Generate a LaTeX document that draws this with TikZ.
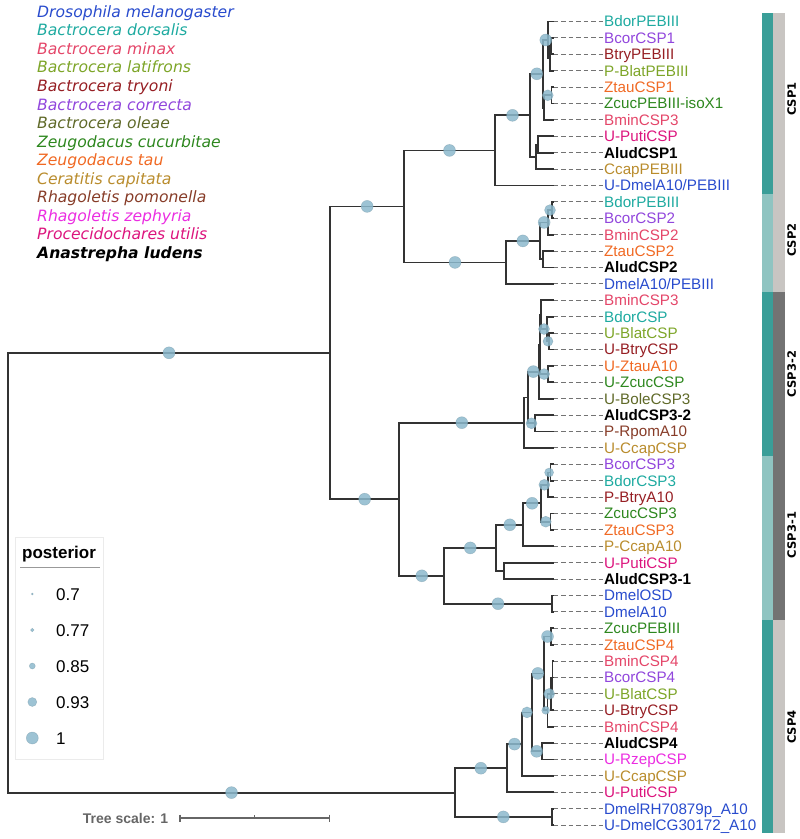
\documentclass[tikz,border=0pt]{standalone}
\usepackage{fontspec}
\setmainfont{Liberation Sans}
\newfontfamily\djv{DejaVu Sans}
\usetikzlibrary{calc}

\definecolor{dmel}{RGB}{40,75,205}
\definecolor{bdor}{RGB}{30,170,160}
\definecolor{bmin}{RGB}{228,70,105}
\definecolor{blat}{RGB}{125,165,40}
\definecolor{btry}{RGB}{150,30,35}
\definecolor{bcor}{RGB}{145,70,220}
\definecolor{bole}{RGB}{95,105,40}
\definecolor{zcuc}{RGB}{45,135,30}
\definecolor{ztau}{RGB}{240,105,35}
\definecolor{ccap}{RGB}{185,140,45}
\definecolor{rpom}{RGB}{135,60,40}
\definecolor{rzep}{RGB}{235,45,225}
\definecolor{puti}{RGB}{220,20,125}
\definecolor{bubfill}{RGB}{140,185,205}
\definecolor{tealD}{RGB}{58,158,152}
\definecolor{tealL}{RGB}{143,196,193}
\definecolor{greyL}{RGB}{200,197,194}
\definecolor{greyD}{RGB}{115,115,115}

\tikzstyle{branch} = [draw=black!80, line width=1.8pt]
\tikzstyle{leafdash} = [draw=black!55, line width=1.1pt, dash pattern=on 4.5pt off 3pt]
\tikzstyle{leaflabel} = [anchor=base west, inner sep=0pt, font=\fontsize{15.2}{18}\selectfont]
\tikzstyle{species} = [anchor=base west, inner sep=0pt, font=\djv\itshape\fontsize{15.6}{18}\selectfont]
\tikzstyle{bubble} = [circle, inner sep=0pt, fill=bubfill, fill opacity=0.85, draw=bubfill!75!black, draw opacity=0.4, line width=0.5pt]
\tikzstyle{cladelabel} = [rotate=90, inner sep=0pt, font=\djv\bfseries\fontsize{11.5}{13}\selectfont]

\begin{document}
\begin{tikzpicture}[x=1pt, y=-1pt]

    \useasboundingbox (0,0) rectangle (800,839);

    % species key
    \foreach \k/\sp/\col in {0/Drosophila melanogaster/dmel, 1/Bactrocera dorsalis/bdor,
        2/Bactrocera minax/bmin, 3/Bactrocera latifrons/blat, 4/Bactrocera tryoni/btry,
        5/Bactrocera correcta/bcor, 6/Bactrocera oleae/bole, 7/Zeugodacus cucurbitae/zcuc,
        8/Zeugodacus tau/ztau, 9/Ceratitis capitata/ccap, 10/Rhagoletis pomonella/rpom,
        11/Rhagoletis zephyria/rzep, 12/Procecidochares utilis/puti,
        13/{\bfseries Anastrepha ludens}/black} {
        \node [species, text=\col] (sp\k) at (37, 17.3+18.54*\k) {\sp};
    }

    % clade bars
    \fill [tealD] (762,13.3) rectangle (773,193.7);
    \fill [tealL] (762,193.7) rectangle (773,292.1);
    \fill [tealD] (762,292.1) rectangle (773,456.1);
    \fill [tealL] (762,456.1) rectangle (773,620.1);
    \fill [tealD] (762,620.1) rectangle (773,833.3);
    \fill [greyL] (773,13.3) rectangle (785,292.1);
    \fill [greyD] (773,292.1) rectangle (785,620.1);
    \fill [greyL] (773,620.1) rectangle (785,833.3);

    \node [cladelabel] (csp1) at (791.7, 99) {CSP1};
    \node [cladelabel] (csp2) at (791.7, 240) {CSP2};
    \node [cladelabel] (csp32) at (791.7, 374) {CSP3-2};
    \node [cladelabel] (csp31) at (791.7, 535) {CSP3-1};
    \node [cladelabel] (csp4) at (791.7, 727) {CSP4};

    % leaves
    \foreach \i/\txt/\col in {0/BdorPEBIII/bdor, 1/BcorCSP1/bcor, 2/BtryPEBIII/btry,
        3/P-BlatPEBIII/blat, 4/ZtauCSP1/ztau, 5/ZcucPEBIII-isoX1/zcuc, 6/BminCSP3/bmin,
        7/U-PutiCSP/puti, 8/{\bfseries AludCSP1}/black, 9/CcapPEBIII/ccap,
        10/{U-DmelA10/PEBIII}/dmel, 11/BdorPEBIII/bdor, 12/BcorCSP2/bcor, 13/BminCSP2/bmin,
        14/ZtauCSP2/ztau, 15/{\bfseries AludCSP2}/black, 16/{DmelA10/PEBIII}/dmel,
        17/BminCSP3/bmin, 18/BdorCSP/bdor, 19/U-BlatCSP/blat, 20/U-BtryCSP/btry,
        21/U-ZtauA10/ztau, 22/U-ZcucCSP/zcuc, 23/U-BoleCSP3/bole, 24/{\bfseries AludCSP3-2}/black,
        25/P-RpomA10/rpom, 26/U-CcapCSP/ccap, 27/BcorCSP3/bcor, 28/BdorCSP3/bdor,
        29/P-BtryA10/btry, 30/ZcucCSP3/zcuc, 31/ZtauCSP3/ztau, 32/P-CcapA10/ccap,
        33/U-PutiCSP/puti, 34/{\bfseries AludCSP3-1}/black, 35/DmelOSD/dmel, 36/DmelA10/dmel,
        37/ZcucPEBIII/zcuc, 38/ZtauCSP4/ztau, 39/BminCSP4/bmin, 40/BcorCSP4/bcor,
        41/U-BlatCSP/blat, 42/U-BtryCSP/btry, 43/BminCSP4/bmin, 44/{\bfseries AludCSP4}/black,
        45/U-RzepCSP/rzep, 46/U-CcapCSP/ccap, 47/U-PutiCSP/puti,
        48/DmelRH70879p\_A10/dmel, 49/U-DmelCG30172\_A10/dmel} {
        \pgfmathsetmacro\yy{21.5+16.4*\i}
        \coordinate (l\i) at (553.5,\yy);
        \node [leaflabel, text=\col] (lab\i) at (604,\yy+5.3) {\txt};
        \draw [leafdash] (l\i) -- (l\i -| lab\i.west);
    }

    % inner nodes
    \coordinate (root) at (8,572.7);
    \coordinate (n1) at (330,352.8);
    \coordinate (nA) at (404.3,206.4);
    \coordinate (ncsp1) at (494.7,150.4);
    \coordinate (nc1) at (530.3,115.3);
    \coordinate (nS13) at (543.3,73.8);
    \coordinate (nS1) at (548.3,40);
    \coordinate (n123) at (549.8,58.4);
    \coordinate (n12) at (551.2,46.1);
    \coordinate (nS3) at (544,107.6);
    \coordinate (n45) at (551.5,95.3);
    \coordinate (n789) at (535.7,156.8);
    \coordinate (n78) at (538.3,144.5);
    \coordinate (ncsp2) at (505.7,262.4);
    \coordinate (nX) at (540,240.9);
    \coordinate (nS4) at (548.3,222.4);
    \coordinate (n1112) at (551.7,210.1);
    \coordinate (nS5) at (543.3,259.3);
    \coordinate (nB) at (399.3,499.2);
    \coordinate (nC) at (524.3,422.7);
    \coordinate (nF) at (528,397.4);
    \coordinate (nG) at (538.6,371.6);
    \coordinate (nW) at (540,344.4);
    \coordinate (n17T) at (541.3,314.7);
    \coordinate (nT) at (546.7,329);
    \coordinate (n1920) at (549.3,341.3);
    \coordinate (nU) at (548.3,374.1);
    \coordinate (n2425) at (535,423.3);
    \coordinate (nD) at (444.3,575.8);
    \coordinate (nE) at (496.3,547.9);
    \coordinate (nF2) at (523.3,524.8);
    \coordinate (nG2) at (541,503.3);
    \coordinate (nH) at (547.7,484.8);
    \coordinate (n2728) at (550.5,472.5);
    \coordinate (n3031) at (550.5,521.7);
    \coordinate (n3334) at (504.3,570.9);
    \coordinate (n3536) at (551.7,603.7);
    \coordinate (nJ) at (455,792.6);
    \coordinate (nK) at (506.7,768.2);
    \coordinate (nL) at (522.3,744.1);
    \coordinate (nM) at (531.7,712.4);
    \coordinate (nN) at (544,673.4);
    \coordinate (n3738) at (551,636.5);
    \coordinate (nP) at (547.4,710.3);
    \coordinate (nQ) at (551,693.9);
    \coordinate (n394041) at (552.5,677.5);
    \coordinate (n4445) at (541.7,751.3);
    \coordinate (n4849) at (551.7,816.9);

    % branches
    \foreach \pa/\ch in {root/n1, root/nJ, n1/nA, n1/nB, nA/ncsp1, nA/ncsp2,
        ncsp1/nc1, ncsp1/l10, nc1/nS13, nc1/n789, nS13/nS1, nS13/nS3,
        nS1/l0, nS1/n123, n123/n12, n123/l3, n12/l1, n12/l2,
        nS3/n45, nS3/l6, n45/l4, n45/l5, n789/n78, n789/l9, n78/l7, n78/l8,
        ncsp2/nX, ncsp2/l16, nX/nS4, nX/nS5, nS4/n1112, nS4/l13,
        n1112/l11, n1112/l12, nS5/l14, nS5/l15,
        nB/nC, nB/nD, nC/nF, nC/l26, nF/nG, nF/n2425, n2425/l24, n2425/l25,
        nG/nW, nG/l23, nW/n17T, nW/nU, n17T/l17, n17T/nT, nT/l18, nT/n1920,
        n1920/l19, n1920/l20, nU/l21, nU/l22,
        nD/nE, nD/n3536, n3536/l35, n3536/l36, nE/nF2, nE/n3334,
        n3334/l33, n3334/l34, nF2/nG2, nF2/l32, nG2/nH, nG2/n3031,
        nH/n2728, nH/l29, n2728/l27, n2728/l28, n3031/l30, n3031/l31,
        nJ/nK, nJ/n4849, n4849/l48, n4849/l49, nK/nL, nK/l47, nL/nM, nL/l46,
        nM/nN, nM/n4445, n4445/l44, n4445/l45, nN/n3738, nN/nP,
        n3738/l37, n3738/l38, nP/nQ, nP/l43, nQ/n394041, nQ/l42,
        n394041/l39, n394041/l40, n394041/l41} {
        \draw [branch] (\pa) |- (\ch);
    }

    % posterior bubbles
    \foreach \pa/\ch/\d in {root/n1/12, root/nJ/12, n1/nA/12, n1/nB/12, nA/ncsp1/12,
        nA/ncsp2/12, ncsp1/nc1/12, nc1/nS13/12, nS13/nS1/12, nS3/n45/11,
        ncsp2/nX/12, nX/nS4/12, nS4/n1112/11, nB/nC/12, nB/nD/12, nF/nG/12,
        nF/n2425/11, n17T/nT/11, nT/n1920/10, nW/nU/11,
        nD/nE/12, nD/n3536/12, nE/nF2/12, nF2/nG2/12, nG2/nH/11, nH/n2728/9,
        nG2/n3031/11, nJ/nK/12, nJ/n4849/12, nK/nL/12, nL/nM/11, nM/nN/12,
        nN/n3738/12, nN/nP/8, nP/nQ/11, nM/n4445/12} {
        \path (\pa) |- node [bubble, pos=0.75, minimum size=\d pt] (b\ch) {} (\ch);
    }

    % posterior key
    \draw [black!8, line width=0.8pt] (15,537) rectangle (103,759);
    \node [anchor=base west, inner sep=0pt, font=\bfseries\fontsize{17}{20}\selectfont] (posttitle) at (22,558) {posterior};
    \draw [black!40, line width=1pt] (posttitle.south west) ++(-2,6) -- ++(80,0);
    \foreach \k/\v/\d in {0/0.7/2, 1/0.77/3.6, 2/0.85/6, 3/0.93/9, 4/1/12} {
        \node [bubble, minimum size=\d pt] (key\k) at (32.3,594+36*\k) {};
        \node [anchor=base west, inner sep=0pt, font=\fontsize{17}{20}\selectfont] (keylab\k) at (56,600.1+36*\k) {\v};
    }

    % tree scale
    \node [anchor=base west, inner sep=0pt, text=black!60, font=\bfseries\fontsize{14}{16}\selectfont] (tscale) at (82.7,823) {Tree scale: 1};
    \coordinate (sb0) at (180,818);
    \coordinate (sb1) at (329.3,818);
    \draw [black!60, line width=1.2pt] (sb0) -- (sb1);
    \draw [black!60, line width=1.2pt] (sb0) ++(0,-3.5) -- ++(0,7);
    \draw [black!60, line width=1.2pt] (sb1) ++(0,-3.5) -- ++(0,7);
    \draw [black!60, line width=1pt] ($(sb0)!0.5!(sb1)$) -- ++(0,-3);

\end{tikzpicture}
\end{document}
